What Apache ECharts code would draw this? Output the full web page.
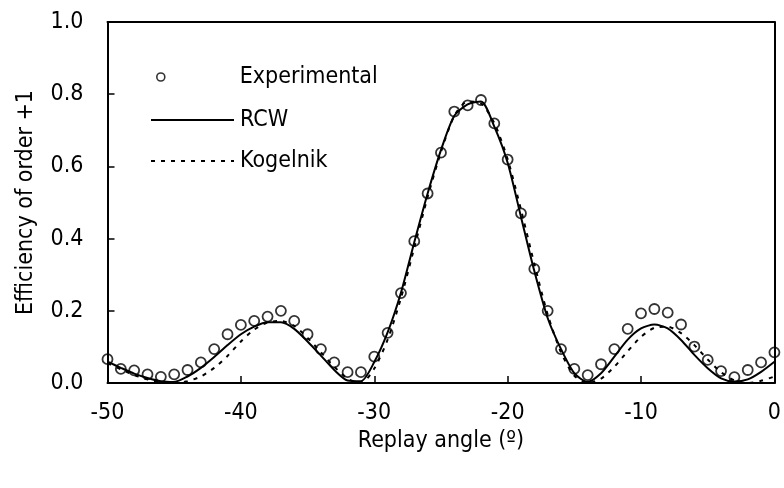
<!DOCTYPE html>
<html>
<head>
<meta charset="utf-8">
<script src="https://cdn.jsdelivr.net/npm/echarts@6/dist/echarts.min.js"></script>
<style>html,body{margin:0;padding:0;background:#fff}#c{width:784px;height:488px}</style>
</head>
<body>
<div id="c"></div>
<script>
// Replay angles (degrees)
const angles = [-50,-49,-48,-47,-46,-45,-44,-43,-42,-41,-40,-39,-38,-37,-36,-35,-34,-33,-32,-31,-30,-29,-28,-27,-26,-25,-24,-23,-22,-21,-20,-19,-18,-17,-16,-15,-14,-13,-12,-11,-10,-9,-8,-7,-6,-5,-4,-3,-2,-1,0];
const experimental = [0.066,0.039,0.035,0.024,0.017,0.024,0.036,0.057,0.094,0.135,0.161,0.172,0.184,0.200,0.172,0.135,0.094,0.057,0.030,0.030,0.073,0.139,0.249,0.393,0.525,0.638,0.752,0.769,0.784,0.719,0.619,0.470,0.316,0.200,0.094,0.039,0.022,0.052,0.094,0.150,0.193,0.205,0.195,0.162,0.101,0.064,0.033,0.016,0.036,0.057,0.085];
const rcw = [0.059,0.042,0.026,0.014,0.005,0.003,0.018,0.042,0.072,0.105,0.135,0.156,0.168,0.168,0.150,0.115,0.076,0.036,0.007,0.005,0.058,0.140,0.250,0.390,0.525,0.645,0.740,0.772,0.780,0.710,0.610,0.460,0.310,0.180,0.094,0.027,0.003,0.027,0.073,0.120,0.151,0.162,0.151,0.119,0.078,0.041,0.013,0.004,0.010,0.031,0.059];
const kogelnik = [0.055,0.038,0.022,0.010,0.002,0.000,0.005,0.018,0.042,0.075,0.115,0.148,0.168,0.172,0.158,0.125,0.085,0.045,0.012,0.000,0.040,0.120,0.235,0.375,0.515,0.640,0.740,0.780,0.775,0.720,0.620,0.480,0.330,0.190,0.085,0.020,0.000,0.012,0.045,0.088,0.128,0.153,0.156,0.138,0.105,0.065,0.030,0.007,0.000,0.006,0.018];
const xTicks = {min:-50, max:0, interval:10};
const yTicks = {min:0, max:1, interval:0.2};
const seriesNames = ['Experimental','RCW','Kogelnik'];
const xTitle = 'Replay angle (º)';
const yTitle = 'Efficiency of order +1';

const FONT = "'Liberation Sans Narrow', 'Arial Narrow', 'DejaVu Sans Condensed', sans-serif";
const FS = 23;
const pairs = arr => angles.map((a,i)=>[a,arr[i]]);
const legendBase = {
  orient:'vertical', left:150, padding:0, itemWidth:83, itemHeight:10,
  itemGap:0, selectedMode:false,
  textStyle:{fontFamily:FONT, fontSize:FS, color:'#000', lineHeight:24, padding:[0,0,0,1]}
};
const frameAxis = {axisLine:{show:true, onZero:false, lineStyle:{color:'#000', width:2}}, axisTick:{show:false}, axisLabel:{show:false}, splitLine:{show:false}};
const chart = echarts.init(document.getElementById('c'), null, {renderer:'canvas'});
chart.setOption({
  animation:false,
  backgroundColor:'#fff',
  grid:{left:107.5, right:9, top:22, bottom:105},
  legend:[
    Object.assign({}, legendBase, {top:65, data:[{name:seriesNames[0], icon:'path://M0,0 M83,10 M6,5 A4,4 0 1 1 14,5 A4,4 0 1 1 6,5 Z', itemStyle:{color:'#fff', borderColor:'#000', borderWidth:1.6}}]}),
    Object.assign({}, legendBase, {top:108, data:[seriesNames[1]]}),
    Object.assign({}, legendBase, {top:149, data:[seriesNames[2]]})
  ],
  xAxis:[{
    type:'value', min:xTicks.min, max:xTicks.max, interval:xTicks.interval,
    name:xTitle, nameLocation:'middle', nameGap:45,
    nameTextStyle:{fontFamily:FONT, fontSize:FS, color:'#000'},
    axisLine:{onZero:false, lineStyle:{color:'#000', width:2}},
    axisTick:{inside:true, length:7, lineStyle:{color:'#000', width:1.5}},
    axisLabel:{margin:19, fontFamily:FONT, fontSize:FS, color:'#000'},
    splitLine:{show:false}
  }, Object.assign({type:'value', position:'top', min:xTicks.min, max:xTicks.max}, frameAxis)],
  yAxis:[{
    type:'value', min:yTicks.min, max:yTicks.max, interval:yTicks.interval,
    name:yTitle, nameLocation:'middle', nameGap:70, nameRotate:90,
    nameTextStyle:{fontFamily:FONT, fontSize:FS, color:'#000'},
    axisLine:{show:true, onZero:false, lineStyle:{color:'#000', width:2}},
    axisTick:{show:true, inside:true, length:7, lineStyle:{color:'#000', width:1.5}},
    axisLabel:{margin:24, fontFamily:FONT, fontSize:FS, color:'#000', formatter:v=>v.toFixed(1)},
    splitLine:{show:false}
  }, Object.assign({type:'value', position:'right', min:yTicks.min, max:yTicks.max}, frameAxis)],
  series:[
    {name:seriesNames[1], type:'line', data:pairs(rcw), symbol:'none', smooth:0.25,
     itemStyle:{color:'rgba(0,0,0,0)'}, lineStyle:{color:'#000', width:2}, z:2},
    {name:seriesNames[2], type:'line', data:pairs(kogelnik), symbol:'none', smooth:0.25,
     itemStyle:{color:'rgba(0,0,0,0)'}, lineStyle:{color:'#000', width:2, type:[4,6]}, z:2},
    {name:seriesNames[0], type:'scatter', data:pairs(experimental), symbol:'circle', symbolSize:10,
     itemStyle:{color:'rgba(0,0,0,0)', borderColor:'#000', borderWidth:1.8}, z:3}
  ]
});
</script>
</body>
</html>
